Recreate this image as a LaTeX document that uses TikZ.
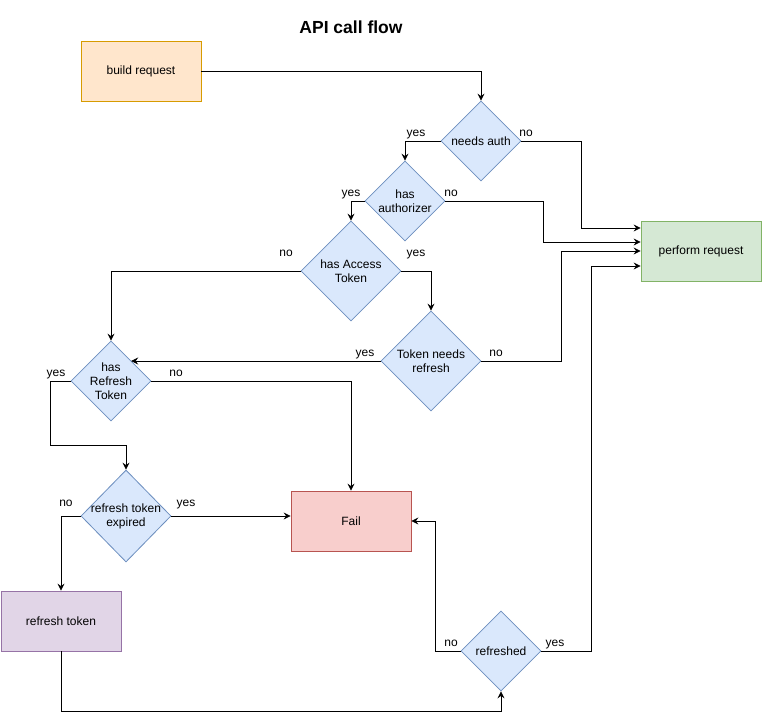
\documentclass[tikz,border=0pt]{standalone}
\usepackage{fontspec}
\setmainfont{Liberation Sans}
\usetikzlibrary{shapes.geometric,arrows.meta,calc}
\definecolor{dfill}{HTML}{DAE8FC}
\definecolor{ddraw}{HTML}{6C8EBF}
\definecolor{ofill}{HTML}{FFE6CC}
\definecolor{odraw}{HTML}{D79B00}
\definecolor{gfill}{HTML}{D5E8D4}
\definecolor{gdraw}{HTML}{82B366}
\definecolor{rfill}{HTML}{F8CECC}
\definecolor{rdraw}{HTML}{B85450}
\definecolor{pfill}{HTML}{E1D5E7}
\definecolor{pdraw}{HTML}{9673A6}
\begin{document}
\begin{tikzpicture}[x=1pt,y=-1pt,
  font=\fontsize{12}{14}\selectfont,
  box/.style={rectangle,draw,line width=0.8pt,minimum width=120,minimum height=60,inner sep=0pt,align=center},
  dia/.style={diamond,draw=ddraw,fill=dfill,line width=0.8pt,inner sep=0pt,minimum width=#1,minimum height=#1},
  dtxt/.style={align=center,inner sep=0pt},
  arr/.style={draw,line width=0.8pt,-{Stealth[length=7pt,width=7pt,inset=2.5pt]}},
  lbl/.style={inner sep=0pt,anchor=base}]
\useasboundingbox (0,0) rectangle (763,721);
\fill[white] (0,0) rectangle (763,721);

\node[font=\fontsize{17.5}{20}\selectfont\bfseries] (title) at (351,27) {API call flow};

\node[box,draw=odraw,fill=ofill] (br) at (141,71) {build request};
\node[box,draw=gdraw,fill=gfill] (pr) at (701,251) {perform request};
\node[box,draw=rdraw,fill=rfill] (fail) at (351,521) {Fail};
\node[box,draw=pdraw,fill=pfill] (rt) at (61,621) {refresh token};

\node[dia=80] (na) at (481,141) {};
\node[dtxt] at (na) {needs auth};
\node[dia=80] (ha) at (405,201) {};
\node[dtxt] at (ha) {has\\authorizer};
\node[dia=100] (hat) at (351,271) {};
\node[dtxt] at (hat) {has Access\\Token};
\node[dia=100] (tnr) at (431,361) {};
\node[dtxt] at (tnr) {Token needs\\refresh};
\node[dia=80] (hrt) at (111,381) {};
\node[dtxt] at (hrt) {has\\Refresh\\Token};
\node[diamond,draw=ddraw,fill=dfill,line width=0.8pt,inner sep=0pt,minimum width=90,minimum height=92] (rte) at (126,516) {};
\node[dtxt] at (rte) {refresh token\\expired};
\node[dia=80] (rf) at (501,651) {};
\node[dtxt] at (rf) {refreshed};

% connectors
\draw[arr] (br.east) -| (na.north);
\draw[arr] (na.west) -| (ha.north);
\draw[arr] (na.east) -- ++(60,0) |- ($(pr.west)+(0,-23)$);
\draw[arr] (ha.west) -| (hat.north);
\draw[arr] (ha.east) -- ++(98,0) |- ($(pr.west)+(0,-9)$);
\draw[arr] (hat.west) -| (hrt.north);
\draw[arr] (hat.east) -| (tnr.north);
\draw[arr] (tnr.west) -- (tnr.west -| hrt.north east);
\draw[arr] (tnr.east) -- ++(80,0) |- (pr.west);
\draw[arr] (hrt.east) -| (fail.north);
\draw[arr] (hrt.west) -- ++(-20,0) -- ++(0,64) -| (rte.north);
\draw[arr] (rte.east) -- (fail.west |- rte.east);
\draw[arr] (rte.west) -| (rt.north);
\draw[arr] (rt.south) -- ++(0,60) -| (rf.south);
\draw[arr] (rf.west) -- ++(-25,0) |- (fail.east);
\draw[arr] (rf.east) -- ++(50,0) |- ($(pr.west)+(0,15)$);

% labels (base line positions)
\node[lbl] (l1) at (416,136) {yes};
\node[lbl] (l2) at (526,136) {no};
\node[lbl] (l3) at (351,196) {yes};
\node[lbl] (l4) at (451,196) {no};
\node[lbl] (l5) at (286,256) {no};
\node[lbl] (l6) at (416,256) {yes};
\node[lbl] (l7) at (365,356) {yes};
\node[lbl] (l8) at (496,356) {no};
\node[lbl] (l9) at (56,376) {yes};
\node[lbl] (l10) at (176,376) {no};
\node[lbl] (l11) at (66,506) {no};
\node[lbl] (l12) at (186,506) {yes};
\node[lbl] (l13) at (451,646) {no};
\node[lbl] (l14) at (555,646) {yes};
\end{tikzpicture}
\end{document}
